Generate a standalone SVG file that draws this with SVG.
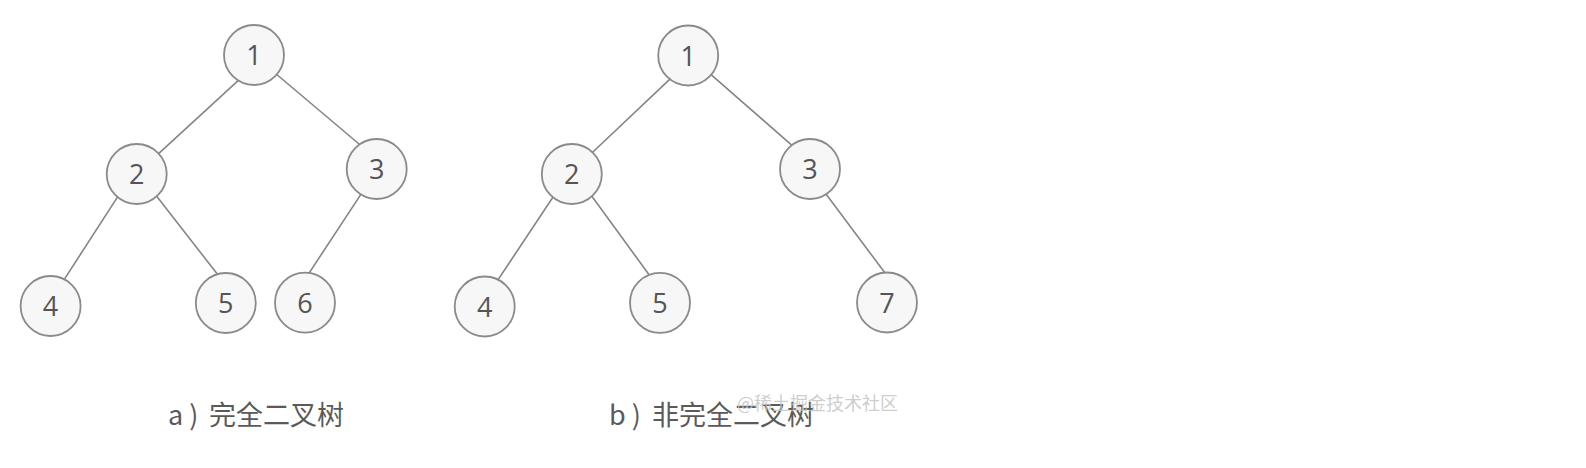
<svg xmlns="http://www.w3.org/2000/svg" width="1586" height="468" viewBox="0 0 1586 468">
<style>
.edge{stroke:#858585;stroke-width:1.6;fill:none;stroke-linecap:round}
.node circle{fill:#f7f7f7;stroke:#8a8a8a;stroke-width:1.8}
.node text{font-family:"Open Sans","DejaVu Sans",sans-serif;font-size:27px;fill:#555;text-anchor:middle}
.label{font-family:"Noto Sans CJK SC",sans-serif;font-size:27px;fill:#5a5a5a}
.wm{font-family:"Noto Sans CJK SC",sans-serif;font-size:18px;fill:#c4c4c4;fill-opacity:0.85}
</style>
<rect width="1586" height="468" fill="#ffffff"/>
<g id="connectors">
<line class="edge" x1="239.2" y1="79.6" x2="154.8" y2="157.1"/>
<line class="edge" x1="273.2" y1="71.5" x2="364.4" y2="148.5"/>
<line class="edge" x1="121" y1="191.6" x2="61.7" y2="283.4"/>
<line class="edge" x1="153.4" y1="192" x2="221.6" y2="279.6"/>
<line class="edge" x1="362.7" y1="191.6" x2="305.6" y2="278.4"/>
<line class="edge" x1="673.1" y1="76.2" x2="589.2" y2="155.5"/>
<line class="edge" x1="707.3" y1="71.4" x2="797.7" y2="150.3"/>
<line class="edge" x1="554.4" y1="195" x2="495.6" y2="283.4"/>
<line class="edge" x1="588.6" y1="191.8" x2="654" y2="281.5"/>
<line class="edge" x1="824.5" y1="191.9" x2="888.8" y2="278.1"/>
</g>
<g id="a1" class="node"><circle cx="254" cy="55" r="30"/><text x="254" y="65">1</text></g>
<g id="a2" class="node"><circle cx="136.7" cy="174" r="30"/><text x="136.7" y="184">2</text></g>
<g id="a3" class="node"><circle cx="376.7" cy="169" r="30"/><text x="376.7" y="179">3</text></g>
<g id="a4" class="node"><circle cx="50.6" cy="306" r="30"/><text x="50.6" y="316">4</text></g>
<g id="a5" class="node"><circle cx="225.8" cy="303" r="30"/><text x="225.8" y="313">5</text></g>
<g id="a6" class="node"><circle cx="305" cy="302.7" r="30"/><text x="305" y="312.7">6</text></g>
<g id="b1" class="node"><circle cx="688.2" cy="55.5" r="30"/><text x="688.2" y="65.5">1</text></g>
<g id="b2" class="node"><circle cx="571.8" cy="174" r="30"/><text x="571.8" y="184">2</text></g>
<g id="b3" class="node"><circle cx="810" cy="169" r="30"/><text x="810" y="179">3</text></g>
<g id="b4" class="node"><circle cx="484.7" cy="306.5" r="30"/><text x="484.7" y="316.5">4</text></g>
<g id="b5" class="node"><circle cx="660" cy="302.8" r="30"/><text x="660" y="312.8">5</text></g>
<g id="b7" class="node"><circle cx="887" cy="302.5" r="30"/><text x="887" y="312.5">7</text></g>
<g id="labels">
<text class="label" y="425"><tspan x="168">a )</tspan><tspan x="209">完全二叉树</tspan></text>
<text class="label" y="425"><tspan x="609">b )</tspan><tspan x="652">非完全二叉树</tspan></text>
<text class="wm" x="737" y="410">@稀土掘金技术社区</text>
</g>
</svg>
